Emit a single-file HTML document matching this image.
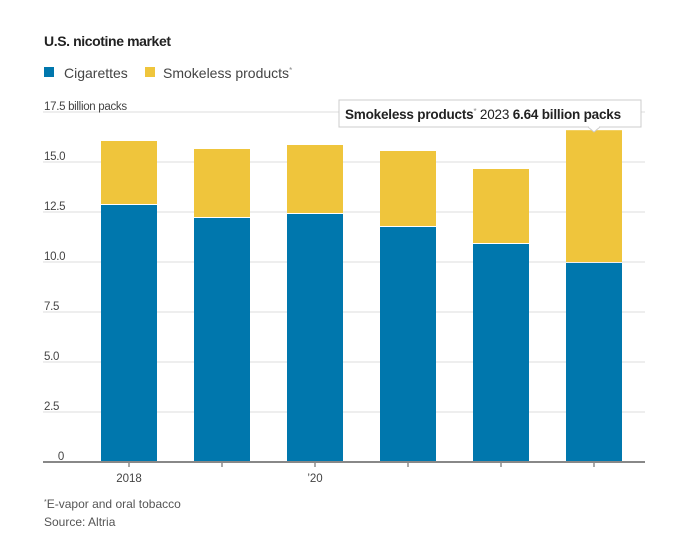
<!DOCTYPE html>
<html><head><meta charset="utf-8"><style>
body{margin:0;background:#fff;font-family:"Liberation Sans",sans-serif;}
svg text{font-family:"Liberation Sans",sans-serif;}
</style></head><body>
<svg width="681" height="537" id="c">
<text x="44" y="46" font-size="14" font-weight="bold" fill="#222" letter-spacing="-0.4">U.S. nicotine market</text>
<rect x="44" y="67" width="10" height="10" fill="#0077ad"/>
<text x="64" y="78" font-size="14" fill="#444">Cigarettes</text>
<rect x="145" y="67" width="10" height="10" fill="#efc53c"/>
<text x="163" y="78" font-size="14" fill="#444">Smokeless products<tspan font-size="8" dy="-5" fill="#888">*</tspan></text>
<g id="grid"></g><g id="bars"></g><g id="xaxis"></g>
<g>
<rect x="339" y="100" width="302" height="27" fill="#fff" stroke="#ccc"/>
<path d="M588 127 L594 132 L600 127" fill="#fff" stroke="#ccc"/>
<rect x="589" y="125" width="10" height="2.5" fill="#fff"/>
<text x="345" y="119" font-size="13.5" fill="#222" letter-spacing="-0.2"><tspan font-weight="bold">Smokeless products</tspan><tspan font-size="8" dy="-5" fill="#888">*</tspan><tspan dy="5"> 2023 </tspan><tspan font-weight="bold">6.64 billion packs</tspan></text>
</g>
<text x="44" y="508" font-size="12" fill="#555"><tspan font-size="7" dy="-4">*</tspan><tspan dy="4">E-vapor and oral tobacco</tspan></text>
<text x="44" y="526" font-size="12" fill="#555">Source: Altria</text>
</svg>
<script>
const years=["2018","2019","2020","2021","2022","2023"];
const xLabels=["2018","","’20","","",""];
const cigarettes=[12.85,12.2,12.4,11.75,10.9,9.95];
const smokeless=[3.2,3.45,3.45,3.8,3.75,6.64];
const yTicks=[0,2.5,5,7.5,10,12.5,15,17.5];
const yTickLabels=["0","2.5","5.0","7.5","10.0","12.5","15.0","17.5 billion packs"];
const ns="http://www.w3.org/2000/svg";
function y(v){return 462-v*20;}
function x(i){return 101+i*93;}
const bw=56;
function mk(t,a,p){const e=document.createElementNS(ns,t);for(const k in a)e.setAttribute(k,a[k]);p.appendChild(e);return e;}
const grid=document.getElementById('grid'),bars=document.getElementById('bars'),xa=document.getElementById('xaxis');
yTicks.forEach((v,i)=>{
 if(i>0){const l=mk('line',{x1:43,x2:645,y1:y(v),y2:y(v),stroke:'#e8e8e8','stroke-width':1.5},grid);
 
 }
 const t=mk('text',{x:i==0?64:44,y:y(v)-2,'font-size':11.5,fill:'#444','text-anchor':i==0?'end':'start','letter-spacing':'-0.3'},grid);
 t.textContent=yTickLabels[i];
 
 
});
years.forEach((yr,i)=>{
 const c=mk('rect',{x:x(i),y:y(cigarettes[i]),width:bw,height:cigarettes[i]*20,fill:'#0077ad'},bars);
 
 
 const tot=cigarettes[i]+smokeless[i];
 const s=mk('rect',{x:x(i),y:y(tot),width:bw,height:smokeless[i]*20-1,fill:'#efc53c'},bars);
 
 
 const tk=mk('line',{x1:x(i)+bw/2,x2:x(i)+bw/2,y1:462,y2:467,stroke:'#555'},xa);
 
 
 if(xLabels[i]){const t=mk('text',{x:x(i)+bw/2,y:482,'font-size':11.5,fill:'#444','text-anchor':'middle'},xa);
 t.textContent=xLabels[i];
 
 }
});
const ax=mk('line',{x1:43,x2:645,y1:462,y2:462,stroke:'#888','stroke-width':2},xa);


</script>
</body></html>
